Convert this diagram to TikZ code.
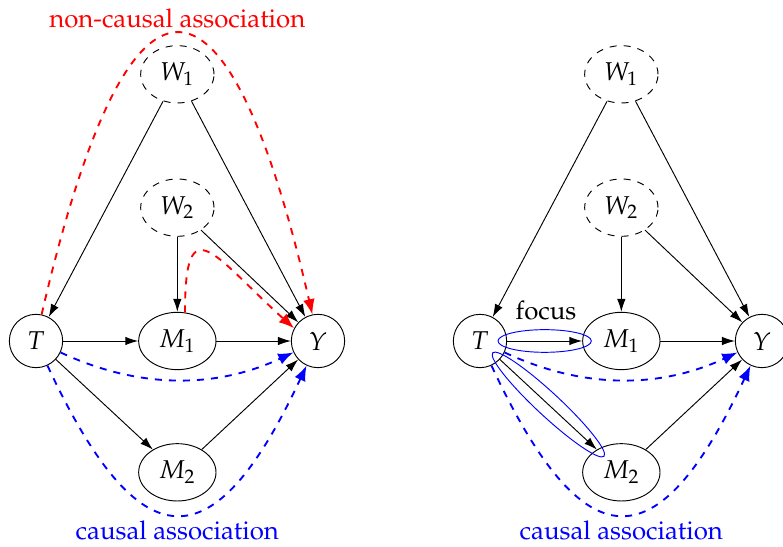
\documentclass[tikz,border=0pt]{standalone}
\usepackage[T1]{fontenc}
\usepackage{mathpazo}
\usetikzlibrary{arrows.meta,shapes.geometric}

\begin{document}
\begin{tikzpicture}[>={Latex[length=5.5pt,width=3.6pt]},
  every node/.style={font=\fontsize{11}{13}\selectfont},
  var/.style={draw,ellipse,minimum width=1.16cm,minimum height=0.86cm,inner sep=0},
  obs/.style={draw,circle,minimum size=0.8cm,inner sep=0},
  unobs/.style={var,dashed,minimum width=1.1cm},
  noncausal/.style={-{Latex[length=6.5pt,width=5pt]},red,thick,dashed},
  causal/.style={-{Latex[length=6.5pt,width=5pt]},blue,thick,dashed},
  focusring/.style={draw=blue,ellipse,inner sep=0}]
  \useasboundingbox (-0.54,-3.09) rectangle (11.205,5.115);

  % left: all paths from T to Y
  \node[obs] (T) at (0,0) {$T$};
  \node[var] (M1) at (2.12,0) {$M_1$};
  \node[obs] (Y) at (4.23,0) {$Y$};
  \node[var] (M2) at (2.12,-1.97) {$M_2$};
  \node[unobs] (W1) at (2.12,4) {$W_1$};
  \node[unobs] (W2) at (2.12,2) {$W_2$};
  \draw[->] (W1) -- (T);
  \draw[->] (W1) -- (Y);
  \draw[->] (W2) -- (M1);
  \draw[->] (W2) -- (Y);
  \draw[->] (T) -- (M1);
  \draw[->] (M1) -- (Y);
  \draw[->] (T) -- (M2);
  \draw[->] (M2) -- (Y);
  \draw[noncausal] (T.78) .. controls +(77:5.76) and +(103:5.76) .. (Y.102);
  \draw[noncausal] (M1.75) to[out=90,in=138,looseness=2.5] (Y.152);
  \draw[causal] (T) to[out=-25,in=205,looseness=0.95] (Y);
  \draw[causal] (T) to[out=-65,in=245,looseness=2.17] (Y);
  \node[red] (ncl) at (2.12,4.845) {non-causal association};
  \node[blue] (cl) at (2.12,-2.835) {causal association};

  % right: focus on the causal paths
  \node[obs] (Tr) at (6.66,0) {$T$};
  \node[var] (M1r) at (8.78,0) {$M_1$};
  \node[obs] (Yr) at (10.89,0) {$Y$};
  \node[var] (M2r) at (8.78,-1.97) {$M_2$};
  \node[unobs] (W1r) at (8.78,4) {$W_1$};
  \node[unobs] (W2r) at (8.78,2) {$W_2$};
  \draw[->] (W1r) -- (Tr);
  \draw[->] (W1r) -- (Yr);
  \draw[->] (W2r) -- (M1r);
  \draw[->] (W2r) -- (Yr);
  \draw[->] (Tr) -- (M1r);
  \draw[->] (M1r) -- (Yr);
  \draw[->] (Tr) -- (M2r);
  \draw[->] (M2r) -- (Yr);
  \draw[causal] (Tr) to[out=-25,in=205,looseness=0.95] (Yr);
  \draw[causal] (Tr) to[out=-65,in=245,looseness=2.17] (Yr);
  \path (Tr) -- (M1r) node[focusring,midway,minimum width=1.4cm,minimum height=0.34cm] (fa) {};
  \path (Tr) -- (M2r) node[focusring,midway,sloped,minimum width=2.28cm,minimum height=0.35cm] (fb) {};
  \node (focus) at (7.65,0.465) {focus};
  \node[blue] (clr) at (8.78,-2.835) {causal association};
\end{tikzpicture}
\end{document}
